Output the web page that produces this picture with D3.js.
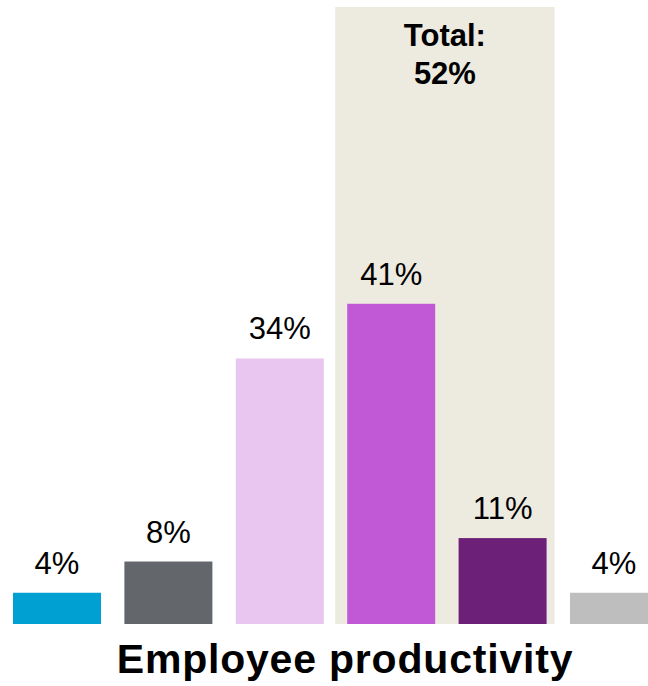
<!DOCTYPE html>
<html>
<head>
<meta charset="utf-8">
<script src="https://cdn.jsdelivr.net/npm/d3@7"></script>
<style>
  html, body { margin: 0; padding: 0; background: #ffffff; }
  svg { display: block; }
  text { font-family: "Liberation Sans", Arial, sans-serif; }
</style>
</head>
<body>
<svg id="chart" width="648" height="686"></svg>
<script>
// Share of respondents per response category
const categories = ["c1", "c2", "c3", "c4", "c5", "c6"];
const values = [4, 8, 34, 41, 11, 4];
const valueLabels = ["4%", "8%", "34%", "41%", "11%", "4%"];
const barColors = ["#00A0D2", "#63666A", "#E9C6EF", "#C158D6", "#6D2077", "#BEBEBE"];

// Highlighted group and its combined total
const highlighted = ["c4", "c5"];
const totalLines = ["Total:", "52%"];
const title = "Employee productivity";

const baseline = 624;
const svg = d3.select("#chart");

const x = d3.scaleBand()
  .domain(categories)
  .range([1.3, 669.7])
  .paddingInner(0.21)
  .paddingOuter(0.105);

const y = d3.scaleLinear()
  .domain([0, 79])
  .range([baseline, 7]);

// Shaded panel behind the highlighted group
const hx0 = x(highlighted[0]) - 12;
const hx1 = x(highlighted[highlighted.length - 1]) + x.bandwidth() + 8;
svg.append("rect")
  .attr("x", hx0)
  .attr("y", y(79))
  .attr("width", hx1 - hx0)
  .attr("height", baseline - y(79))
  .attr("fill", "#EDEAE0");

const totalText = svg.append("text")
  .attr("x", (hx0 + hx1) / 2)
  .attr("y", 46)
  .attr("text-anchor", "middle")
  .attr("font-size", 31)
  .attr("font-weight", "bold")
  .attr("fill", "#000");
totalLines.forEach((t, i) => {
  totalText.append("tspan")
    .attr("x", (hx0 + hx1) / 2)
    .attr("dy", i === 0 ? 0 : 38)
    .text(t);
});

// Bars
svg.selectAll("rect.bar")
  .data(categories)
  .join("rect")
  .attr("class", "bar")
  .attr("x", d => x(d))
  .attr("y", (d, i) => y(values[i]))
  .attr("width", x.bandwidth())
  .attr("height", (d, i) => baseline - y(values[i]))
  .attr("fill", (d, i) => barColors[i]);

// Value labels above bars
svg.selectAll("text.value")
  .data(categories)
  .join("text")
  .attr("class", "value")
  .attr("x", d => x(d) + x.bandwidth() / 2)
  .attr("y", (d, i) => y(values[i]) - 19)
  .attr("text-anchor", "middle")
  .attr("font-size", 31)
  .attr("fill", "#000")
  .text((d, i) => valueLabels[i]);

// Chart title under the baseline
svg.append("text")
  .attr("x", 345)
  .attr("y", 673)
  .attr("text-anchor", "middle")
  .attr("font-size", 41)
  .attr("font-weight", "bold")
  .attr("letter-spacing", 0.8)
  .attr("fill", "#000")
  .text(title);
</script>
</body>
</html>
